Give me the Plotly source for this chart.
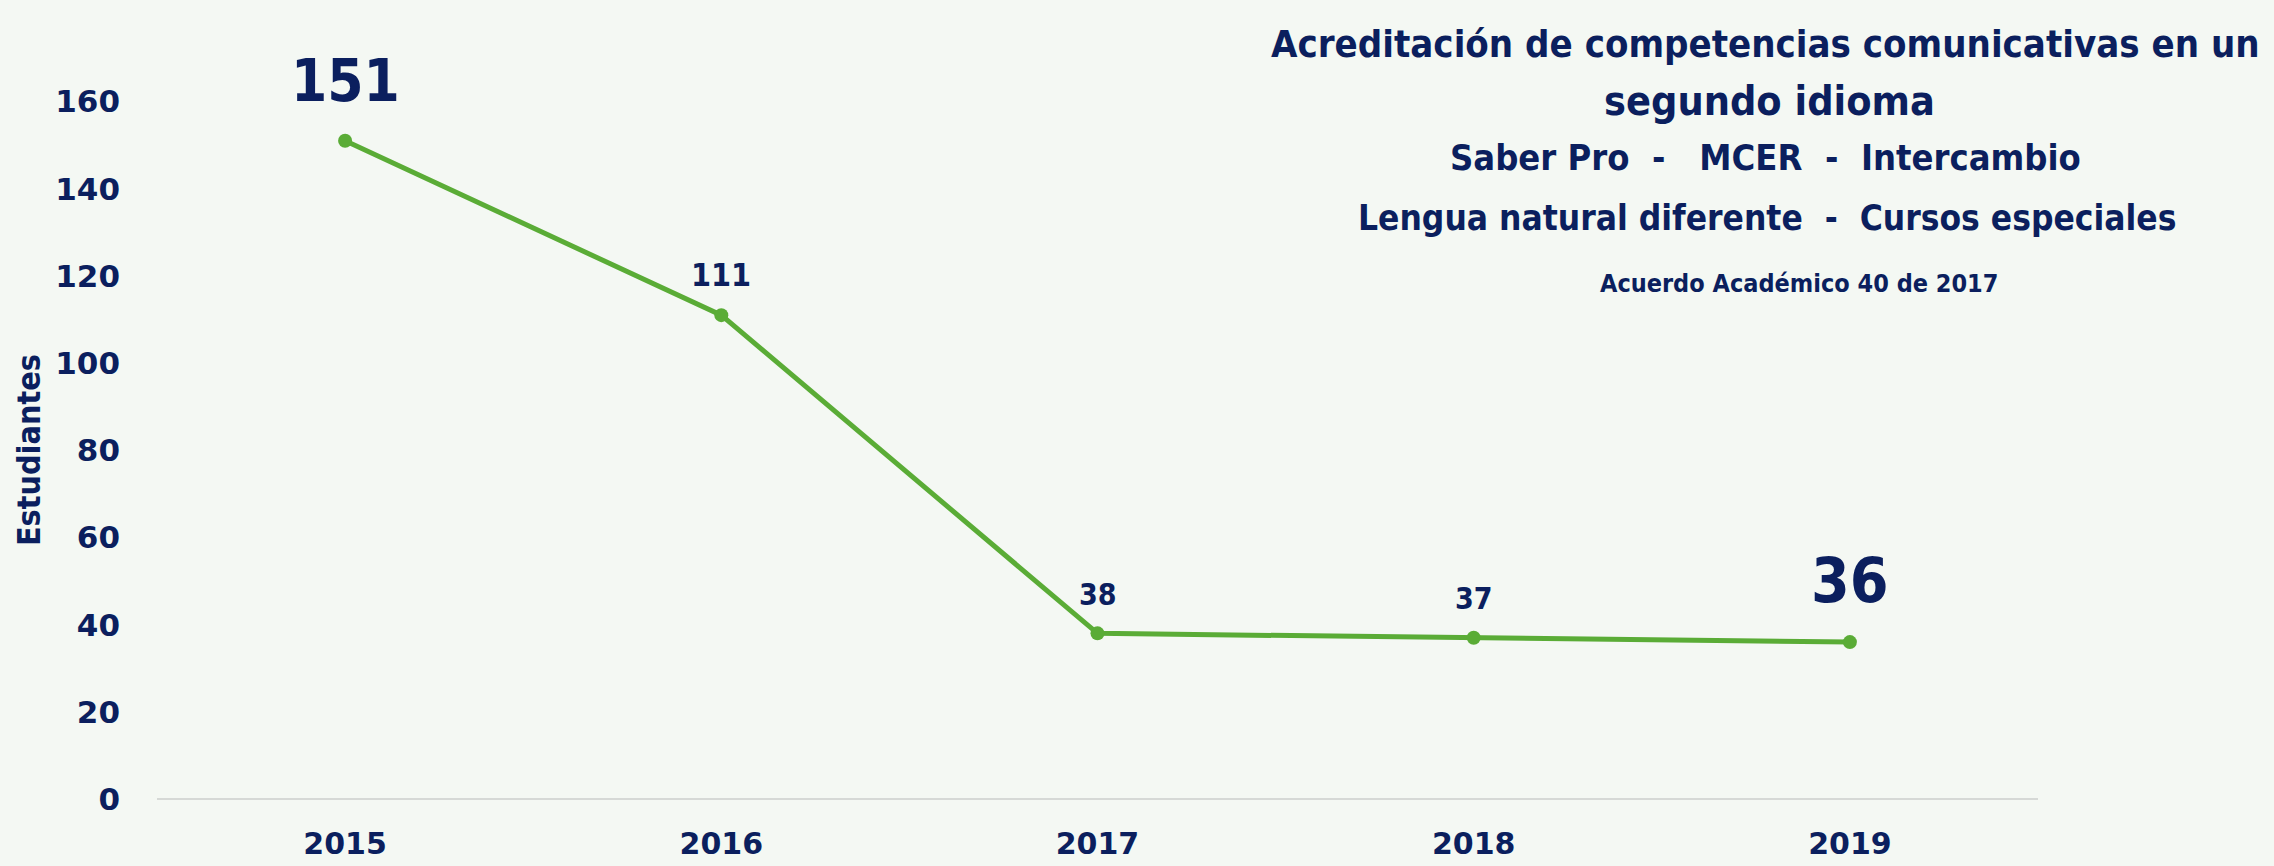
import plotly.graph_objects as go

years = ["2015", "2016", "2017", "2018", "2019"]
students = [151, 111, 38, 37, 36]
label_sizes = [58, 32, 30, 30, 62]
label_shift = [60, 40, 39, 39, 62]
y_ticks = [0, 20, 40, 60, 80, 100, 120, 140, 160]

title_lines = [
    "Acreditación de competencias comunicativas en un",
    "segundo idioma",
    "Saber Pro  -   MCER  -  Intercambio",
    "Lengua natural diferente  -  Cursos especiales",
    "Acuerdo Académico 40 de 2017",
]
y_title = "Estudiantes"

NAVY = "#0b1f5e"
GREEN = "#5aac36"
COND = "DejaVu Sans Condensed, Liberation Sans Narrow, Arial Narrow, sans-serif"
WIDE = "DejaVu Sans, Verdana, sans-serif"

fig = go.Figure()
fig.add_trace(go.Scatter(
    x=list(range(len(years))), y=students,
    mode="lines+markers",
    line=dict(color=GREEN, width=5),
    marker=dict(color=GREEN, size=14),
    cliponaxis=False,
    showlegend=False,
))

for i, (v, sz, sh) in enumerate(zip(students, label_sizes, label_shift)):
    fig.add_annotation(
        x=i, y=v, text=f"<b>{v}</b>", showarrow=False,
        yanchor="middle", yshift=sh,
        font=dict(family=COND, size=sz, color=NAVY),
    )

# title block
pos = [(0.855, 1.019, 38), (0.857, 0.942, 41), (0.855, 0.866, 36), (0.856, 0.784, 35), (0.873, 0.696, 25)]
for txt, (xp, yp, sz) in zip(title_lines, pos):
    fig.add_annotation(
        text=f"<b>{txt}</b>", x=xp, y=yp, xref="paper", yref="paper",
        xanchor="center", yanchor="middle", showarrow=False,
        font=dict(family=COND, size=sz, color=NAVY),
    )

# y-axis title
fig.add_annotation(
    text=f"<b>{y_title}</b>", x=-0.068, y=0.471, xref="paper", yref="paper",
    xanchor="center", yanchor="middle", textangle=-90, showarrow=False,
    font=dict(family=COND, size=32, color=NAVY),
)

fig.update_layout(
    width=2274, height=866,
    margin=dict(l=157, r=236, t=58, b=67),
    paper_bgcolor="#f4f8f3",
    plot_bgcolor="rgba(0,0,0,0)",
    xaxis=dict(
        range=[-0.5, 4.5], tickvals=list(range(len(years))), ticktext=years,
        showgrid=False, showline=False, zeroline=False, automargin=False,
        ticks="", ticklabelstandoff=24,
        tickfont=dict(family=WIDE, size=30, color=NAVY, weight="bold"),
    ),
    yaxis=dict(
        range=[0, 170], tickvals=y_ticks, automargin=False,
        showgrid=False, showline=False,
        zeroline=True, zerolinecolor="#d6d9d6", zerolinewidth=2,
        ticks="", ticklabelstandoff=36,
        tickfont=dict(family=WIDE, size=31, color=NAVY, weight="bold"),
    ),
)

fig.write_html("out.html", config={"displayModeBar": False},
               post_script="document.body.style.margin='0';document.body.style.overflow='hidden';")
